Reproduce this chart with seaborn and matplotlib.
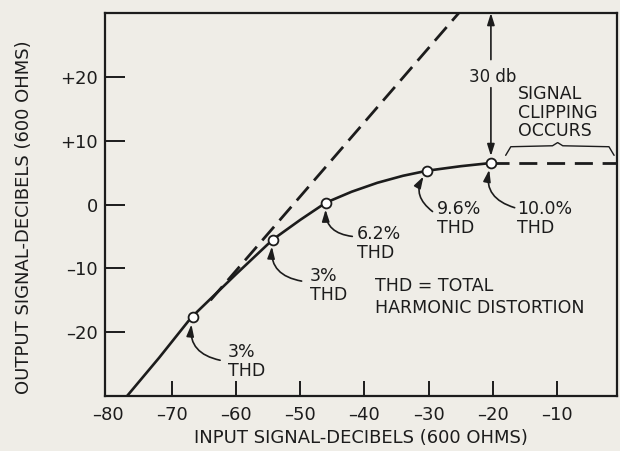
import matplotlib
matplotlib.use('Agg')
import numpy as np
import pandas as pd
from matplotlib import pyplot as plt
import seaborn as sns

# values (input dB -> output dB)
curve_in = [-77, -72, -67, -60, -54.3, -50, -46, -42, -38, -34, -30.2, -25, -20.3]
curve_out = [-30, -24, -17.7, -10.9, -5.5, -2.4, 0.3, 2.0, 3.4, 4.5, 5.3, 6.0, 6.5]
ideal_in = [-64, -25.3]
ideal_out = [-15, 30]
clip_in = [-20.3, -0.6]
clip_out = [6.5, 6.5]
thd_in = [-66.8, -54.3, -46, -30.2, -20.3]
thd_out = [-17.7, -5.5, 0.3, 5.3, 6.5]
thd_labels = ['3%', '3%', '6.2%', '9.6%', '10.0%']
x_ticks = [-80, -70, -60, -50, -40, -30, -20, -10]
y_ticks = [-20, -10, 0, 10, 20]

ink = '#1c1c1c'
paper = '#efede7'

sns.set_style('ticks')
plt.rcParams['font.family'] = ['DejaVu Sans']

fig = plt.figure(figsize=(6.2, 4.51), dpi=100, facecolor=paper)
ax = fig.add_axes([105 / 620, 55 / 451, 512 / 620, 383 / 451])
ax.set_facecolor(paper)

curve = pd.DataFrame({'inp': curve_in, 'out': curve_out})
sns.lineplot(data=curve, x='inp', y='out', color=ink, lw=1.9, ax=ax)
sns.lineplot(x=ideal_in, y=ideal_out, color=ink, lw=2.0, linestyle=(0, (6.5, 3)), ax=ax)
sns.lineplot(x=clip_in, y=clip_out, color=ink, lw=2.0, linestyle=(0, (6.5, 3.5)), ax=ax)
sns.scatterplot(x=thd_in, y=thd_out, s=50, color='white', edgecolor=ink, linewidth=1.3, zorder=5, ax=ax)

ax.set_xlim(-80.44, -0.65)
ax.set_ylim(-30, 30)

# THD callouts
text_pos = [(-61.3, -24.6), (-48.5, -12.7), (-41.2, -6.1), (-28.7, -2.2), (-16.2, -2.2)]
tails = [(-62.5, -24.4), (-49.8, -12.0), (-41.9, -5.0), (-29.4, -1.1), (-16.6, -0.5)]
for xi, yi, lab, (tx, ty), tail in zip(thd_in, thd_out, thd_labels, text_pos, tails):
    ax.text(tx, ty, lab + '\nTHD', ha='left', va='center', fontsize=12.5,
            color=ink, linespacing=1.05)
    ax.annotate('', xy=(xi, yi), xytext=tail,
                arrowprops=dict(arrowstyle='-|>,head_length=0.7,head_width=0.22',
                                connectionstyle='arc3,rad=-0.5', color=ink, lw=1.2,
                                shrinkA=0, shrinkB=5))

# 30 db span arrow
x30 = thd_in[-1]
ax.annotate('', xy=(x30, 30), xytext=(x30, 22.7),
            arrowprops=dict(arrowstyle='-|>,head_length=0.7,head_width=0.22',
                            color=ink, lw=1.2, shrinkA=0, shrinkB=0))
ax.annotate('', xy=(x30, thd_out[-1]), xytext=(x30, 18.3),
            arrowprops=dict(arrowstyle='-|>,head_length=0.7,head_width=0.22',
                            color=ink, lw=1.2, shrinkA=0, shrinkB=5))
ax.text(x30 + 0.3, 19.9, '30 db', ha='center', va='center', fontsize=12, color=ink)

ax.text(-16.1, 14.4, 'SIGNAL\nCLIPPING\nOCCURS', ha='left', va='center',
        fontsize=12.5, color=ink, linespacing=1.06)
ax.plot([-18.0, -17.2, -10.7, -9.9, -9.1, -1.9, -1.1],
        [7.7, 9.05, 9.2, 9.7, 9.2, 9.05, 7.7], color=ink, lw=1.0)

ax.text(-38.3, -14.5, 'THD = TOTAL\nHARMONIC DISTORTION', ha='left', va='center',
        fontsize=12.5, color=ink, linespacing=1.25)

# axes styling
ax.set_xticks(x_ticks)
ax.set_xticklabels([str(v).replace('-', '\u2013') for v in x_ticks])
ax.set_yticks(y_ticks)
ax.set_yticklabels([('+' + str(v) if v > 0 else str(v).replace('-', '\u2013')) for v in y_ticks])
ax.xaxis.get_major_ticks()[0].tick1line.set_visible(False)
ax.tick_params(axis='x', direction='in', length=11, width=1.4, pad=7,
               labelsize=13, colors=ink, top=False)
ax.tick_params(axis='y', direction='in', length=14.5, width=1.4, pad=5,
               labelsize=13, colors=ink, right=False)
for sp in ax.spines.values():
    sp.set_visible(True)
    sp.set_linewidth(1.6)
    sp.set_color(ink)

ax.set_xlabel('INPUT SIGNAL-DECIBELS (600 OHMS)', fontsize=13, color=ink, labelpad=4)
ax.set_ylabel('OUTPUT SIGNAL-DECIBELS (600 OHMS)', fontsize=13, color=ink)
ax.yaxis.set_label_coords(-0.141, 0.466)

fig.savefig('out.png', dpi=100, facecolor=paper)
